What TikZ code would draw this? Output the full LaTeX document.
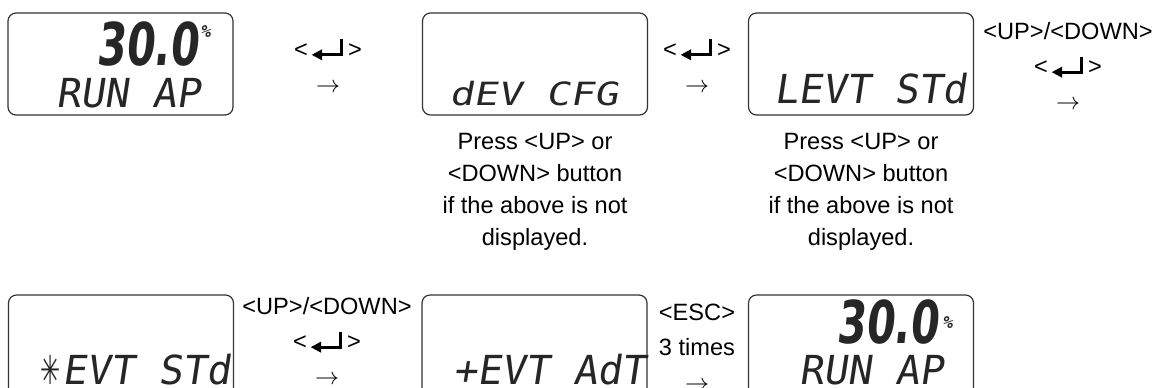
\documentclass[tikz,border=0pt]{standalone}
\usepackage{fontspec}
\usepackage{graphicx}
\setmainfont{Liberation Sans}
\newfontfamily\lcdfont{DejaVu Sans Mono}[FakeSlant=0.15]
\newfontfamily\segfont{DejaVu Sans}[FakeSlant=0.15]
\newfontfamily\symfont{DejaVu Sans}
\usetikzlibrary{positioning}
% return key glyph and the <key> label
\newcommand{\retsym}{\tikz[baseline=0pt]{%
  \draw[line width=1.4pt] (15pt,9pt) -- (15pt,1.2pt) -- (4pt,1.2pt);
  \fill (0pt,1.2pt) -- (5.2pt,4pt) -- (5.2pt,-1.6pt) -- cycle;}}
\newcommand{\enterkey}{<\kern2pt\retsym\kern2.5pt>}
\newcommand{\starseg}{\makebox[0.602em][c]{\symfont\scalebox{0.6}[1]{✳}}}

\begin{document}
\begin{tikzpicture}[
  x=0.5pt,y=-0.5pt,
  lcdbox/.style={draw=black!80, line width=0.6pt, rounded corners=4pt,
    minimum width=112.5pt, minimum height=51pt, inner sep=0pt},
  lcdtxt/.style={font=\lcdfont\fontsize{20}{20}\selectfont, inner sep=0pt,
    anchor=base west, text=black!85},
  lcdnum/.style={font=\segfont\bfseries\fontsize{29.5}{30}\selectfont, inner sep=0pt,
    anchor=base west, text=black!85},
  lcdpct/.style={font=\lcdfont\bfseries\fontsize{8.5}{9}\selectfont, inner sep=0pt,
    anchor=base west, text=black!85},
  keylbl/.style={font=\fontsize{11.8}{17.5}\selectfont, align=center, inner sep=0pt},
  hint/.style={font=\fontsize{11.8}{16}\selectfont, align=center, inner sep=0pt}
]
\clip (0,0) rectangle (1155,387);

% top row: displays
\node[lcdbox] (d1) at (120.5,64) {};
\node[lcdnum] (d1val) at (96,65) {\scalebox{0.7}[1]{30.0}};
\node[lcdpct] (d1pct) at (200,37) {\%};
\node[lcdtxt] (d1txt) at (56,107) {RUN AP};

\node[lcdbox] (d2) at (535,64) {};
\node[lcdtxt] (d2txt) at (449,105) {\scalebox{1}[0.8]{dEV CFG}};

\node[lcdbox] (d3) at (861,64) {};
\node[lcdtxt] (d3txt) at (774,103) {LEVT STd};

% top row: key labels
\node[keylbl] (k1) at (328,65) {\enterkey\\$\rightarrow$};
\node[keylbl] (k2) at (697,65) {\enterkey\\$\rightarrow$};
\node[keylbl] (k3) at (1068,66) {<UP>/<DOWN>\\\enterkey\\$\rightarrow$};

% hints below the displays
\node[hint] (h2) at (535,191.5) {Press <UP> or\\<DOWN> button\\if the above is not\\displayed.};
\node[hint] (h3) at (861,191.5) {Press <UP> or\\<DOWN> button\\if the above is not\\displayed.};

% bottom row: displays
\node[lcdbox] (d4) at (121,346) {};
\node[lcdtxt] (d4txt) at (38,384) {\starseg EVT STd};

\node[lcdbox] (d5) at (534.5,346) {};
\node[lcdtxt] (d5txt) at (453,384) {+EVT AdT};

\node[lcdbox] (d6) at (861,346) {};
\node[lcdnum] (d6val) at (836,343) {\scalebox{0.7}[1]{30.0}};
\node[lcdpct] (d6pct) at (942,328) {\%};
\node[lcdtxt] (d6txt) at (799,384) {RUN AP};

% bottom row: key labels
\node[keylbl] (k4) at (327,341) {<UP>/<DOWN>\\\enterkey\\$\rightarrow$};
\node[keylbl] (k5) at (697,347) {<ESC>\\3 times\\$\rightarrow$};
\end{tikzpicture}
\end{document}
